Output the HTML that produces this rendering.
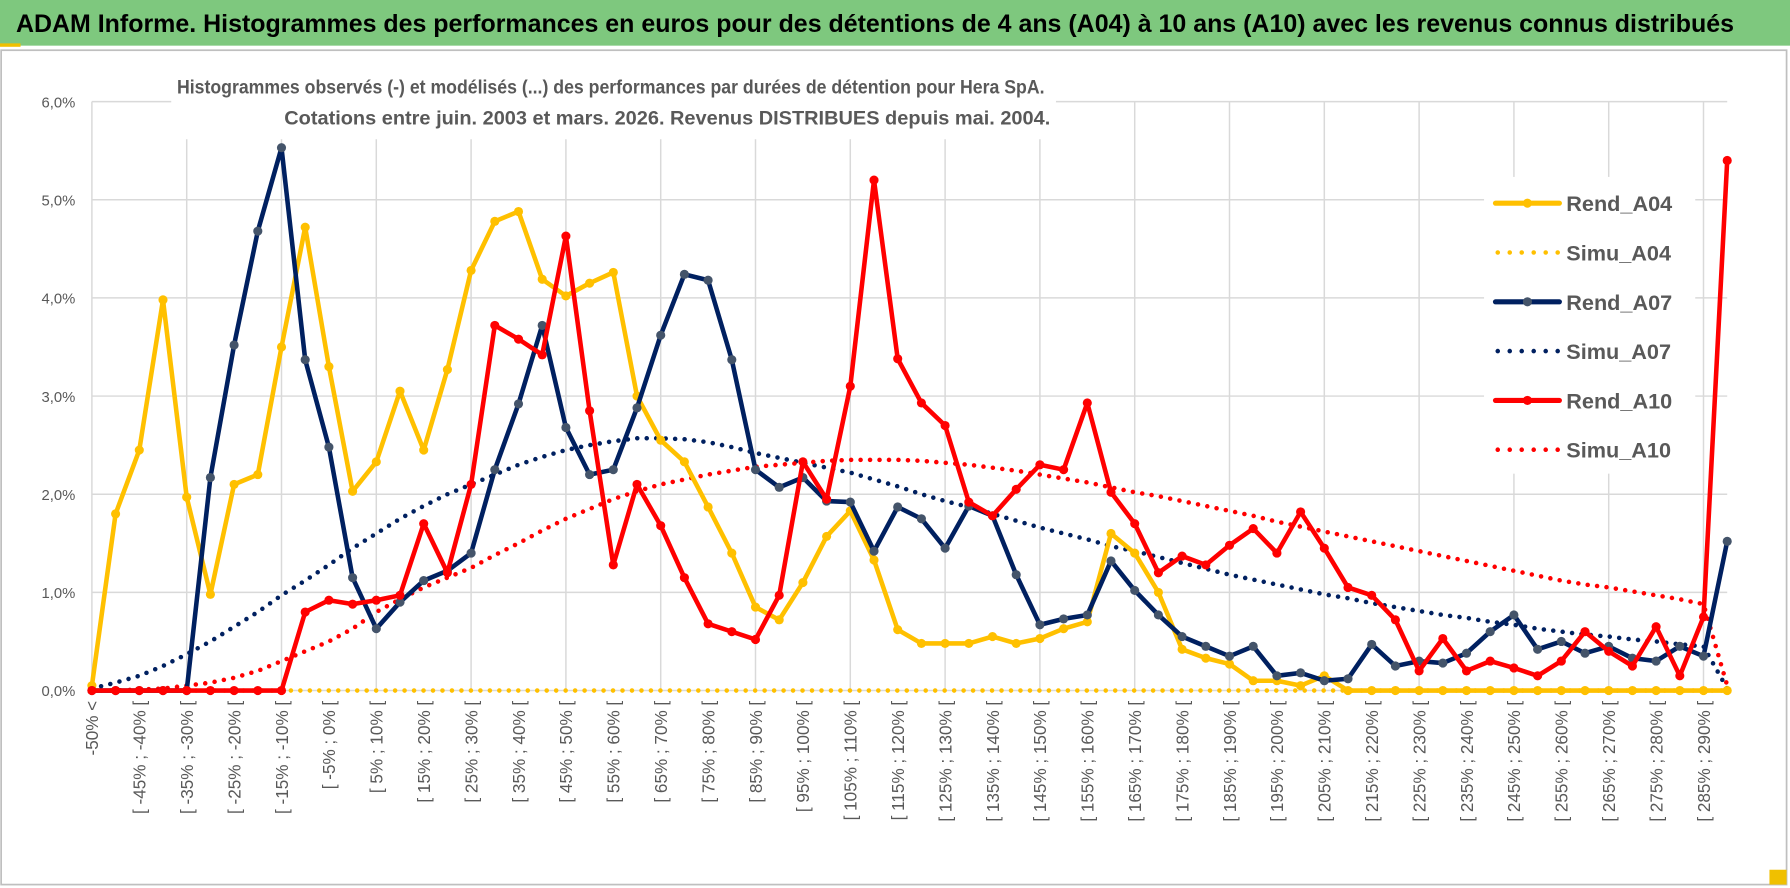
<!DOCTYPE html>
<html><head><meta charset="utf-8">
<style>
html,body{margin:0;padding:0;background:#fff;}
svg{display:block;}
text{font-family:"Liberation Sans Narrow","Liberation Sans",sans-serif;}
</style></head>
<body>
<svg id="chart" width="1790" height="888" viewBox="0 0 1568 778" preserveAspectRatio="none" xmlns="http://www.w3.org/2000/svg">
  <rect x="0" y="0" width="1568" height="778" fill="#fff"/>
  <rect x="0" y="0" width="1568" height="40" fill="#7ec87e"/>
  <rect x="0" y="38" width="18" height="3" fill="#f0c000"/>
  <text x="14" y="28" font-size="22" font-weight="bold" fill="#000" textLength="1505" lengthAdjust="spacingAndGlyphs">ADAM Informe. Histogrammes des performances en euros pour des détentions de 4 ans (A04) à 10 ans (A10) avec les revenus connus distribués</text>
  <rect x="1" y="44" width="1564" height="731" fill="#fff" stroke="#bfbfbf" stroke-width="1.5"/>
  <rect x="1550" y="762" width="15" height="13" fill="#f0c000"/>
  <g id="grid"></g>
  <rect x="150" y="58" width="775" height="64" fill="#fff"/>
  <text x="155" y="82" font-size="17" font-weight="bold" fill="#595959" textLength="760" lengthAdjust="spacingAndGlyphs">Histogrammes observés (-) et modélisés (...) des performances par durées de détention pour Hera SpA.</text>
  <text x="249" y="109" font-size="17" font-weight="bold" fill="#595959" textLength="671" lengthAdjust="spacingAndGlyphs">Cotations entre juin. 2003 et mars. 2026. Revenus DISTRIBUES depuis mai. 2004.</text>
  <g id="yaxis"></g>
  <g id="xaxis"></g>
  <g id="legendbg"></g>
  <g id="series"></g>
  <g id="legend"></g>
</svg>
<script>
const categories = ["-50% <"];
for (let k = 1; k < 70; k++) categories.push("[ " + (-50 + 5*(k-1)) + "% ; " + (-45 + 5*(k-1)) + "% [");
const yTicks = [0,1,2,3,4,5,6];
const yTickLabels = ["0,0%","1,0%","2,0%","3,0%","4,0%","5,0%","6,0%"];
const rendA04 = [0.05,1.8,2.45,3.98,1.97,0.98,2.1,2.2,3.5,4.72,3.3,2.03,2.33,3.05,2.45,3.27,4.28,4.78,4.88,4.19,4.02,4.15,4.26,3.0,2.55,2.33,1.87,1.4,0.85,0.72,1.1,1.57,1.83,1.33,0.62,0.48,0.48,0.48,0.55,0.48,0.53,0.63,0.7,1.6,1.4,1.0,0.42,0.33,0.27,0.1,0.1,0.05,0.15,0,0,0,0,0,0,0,0,0,0,0,0,0,0,0,0,0];
const simuA04 = [0,0,0,0,0,0,0,0,0,0,0,0,0,0,0,0,0,0,0,0,0,0,0,0,0,0,0,0,0,0,0,0,0,0,0,0,0,0,0,0,0,0,0,0,0,0,0,0,0,0,0,0,0,0,0,0,0,0,0,0,0,0,0,0,0,0,0,0,0,0];
const rendA07 = [0,0,0,0,0,2.17,3.52,4.68,5.53,3.37,2.48,1.15,0.63,0.9,1.12,1.22,1.4,2.25,2.92,3.72,2.68,2.2,2.25,2.88,3.62,4.24,4.18,3.37,2.25,2.07,2.17,1.93,1.92,1.42,1.87,1.75,1.45,1.88,1.78,1.18,0.67,0.73,0.77,1.32,1.02,0.77,0.55,0.45,0.35,0.45,0.15,0.18,0.1,0.12,0.47,0.25,0.3,0.28,0.38,0.6,0.77,0.42,0.5,0.38,0.45,0.33,0.3,0.45,0.35,1.52];
const simuA07 = [0.02,0.08,0.15,0.25,0.37,0.5,0.65,0.8,0.97,1.12,1.28,1.45,1.6,1.75,1.88,2.0,2.1,2.2,2.3,2.38,2.45,2.5,2.54,2.57,2.57,2.56,2.53,2.48,2.42,2.37,2.32,2.27,2.22,2.15,2.08,2.0,1.93,1.87,1.8,1.73,1.66,1.6,1.54,1.47,1.42,1.36,1.3,1.24,1.18,1.13,1.08,1.03,0.98,0.94,0.89,0.85,0.81,0.77,0.74,0.7,0.67,0.63,0.6,0.57,0.55,0.52,0.5,0.47,0.45,0.02];
const rendA10 = [0,0,0,0,0,0,0,0,0,0.8,0.92,0.88,0.92,0.97,1.7,1.2,2.1,3.72,3.58,3.42,4.63,2.85,1.28,2.1,1.68,1.15,0.68,0.6,0.52,0.97,2.33,1.95,3.1,5.2,3.38,2.93,2.7,1.92,1.78,2.05,2.3,2.25,2.93,2.02,1.7,1.2,1.37,1.28,1.48,1.65,1.4,1.82,1.45,1.05,0.97,0.72,0.2,0.53,0.2,0.3,0.23,0.15,0.3,0.6,0.4,0.25,0.65,0.15,0.75,5.4];
const simuA10 = [0,0,0.01,0.02,0.05,0.08,0.13,0.2,0.3,0.4,0.5,0.63,0.8,0.93,1.05,1.15,1.25,1.38,1.5,1.63,1.75,1.85,1.95,2.03,2.1,2.15,2.2,2.24,2.28,2.3,2.32,2.34,2.35,2.35,2.35,2.34,2.32,2.3,2.27,2.24,2.2,2.16,2.12,2.07,2.02,1.98,1.93,1.88,1.83,1.78,1.72,1.67,1.62,1.57,1.52,1.47,1.42,1.37,1.32,1.27,1.22,1.17,1.12,1.08,1.05,1.01,0.97,0.93,0.88,0.05];

const NS = "http://www.w3.org/2000/svg";
const X0 = 80.5, X1 = 1513, Y0 = 605, YTOP = 89;
function xPos(i){ return X0 + i*(X1-X0)/(categories.length-1); }
function yPos(v){ return Y0 - v*(Y0-YTOP)/6; }
function mk(tag, attrs, parent){ const e=document.createElementNS(NS,tag); for(const k in attrs) e.setAttribute(k,attrs[k]); parent.appendChild(e); return e; }

const grid = document.getElementById('grid');
yTicks.forEach(t=>{
  const l = mk('line',{x1:X0,x2:X1,y1:yPos(t),y2:yPos(t),stroke:'#d9d9d9','stroke-width':1.3},grid);
  
  
});
for(let i=4;i<categories.length;i+=4){
  const l = mk('line',{x1:xPos(i),x2:xPos(i),y1:YTOP,y2:Y0,stroke:'#d9d9d9','stroke-width':1.3},grid);
  
  
}
mk('line',{x1:X0,x2:X0,y1:YTOP,y2:Y0,stroke:'#d9d9d9','stroke-width':1.3},grid);

const yaxis = document.getElementById('yaxis');
yTicks.forEach((t,i)=>{
  const tx = mk('text',{x:66,y:yPos(t)+5,'text-anchor':'end','font-size':13,fill:'#595959'},yaxis);
  tx.textContent = yTickLabels[i];
  
  
});
const xaxis = document.getElementById('xaxis');
categories.forEach((c,i)=>{
  if(i%2) return;
  const x = xPos(i)+5.5, y=614;
  const tx = mk('text',{x:x,y:y,'text-anchor':'end','font-size':15,fill:'#595959',transform:`rotate(-90 ${x} ${y})`},xaxis);
  tx.textContent = c;
  
  
});

const legendbg = document.getElementById('legendbg');
mk('rect',{x:1300,y:155,width:185,height:260,fill:'#fff'},legendbg);

const series = document.getElementById('series');
function drawDotted(vals,color,name){
  const p = mk('polyline',{points:vals.map((v,i)=>xPos(i)+','+yPos(v)).join(' '),fill:'none',stroke:color,'stroke-width':4,'stroke-linecap':'round','stroke-dasharray':'0 8.3'},series);
  
  
}
function drawLine(vals,color,mcolor,name){
  const g = mk('g',{},series);
  
  
  mk('polyline',{points:vals.map((v,i)=>xPos(i)+','+yPos(v)).join(' '),fill:'none',stroke:color,'stroke-width':4,'stroke-linejoin':'round'},g);
  vals.forEach((v,i)=>{
    const c = mk('circle',{cx:xPos(i),cy:yPos(v),r:4,fill:mcolor},g);
    
    
  });
}
drawDotted(simuA04,'#ffc000','simu-a04-line');
drawDotted(simuA07,'#002060','simu-a07-line');
drawDotted(simuA10,'#ff0000','simu-a10-line');
drawLine(rendA04,'#ffc000','#ffc000','rend-a04-line');
drawLine(rendA07,'#002060','#44546a','rend-a07-line');
drawLine(rendA10,'#ff0000','#ff0000','rend-a10-line');

const legend = document.getElementById('legend');
const legendItems = [["Rend_A04","#ffc000","#ffc000",false],["Simu_A04","#ffc000",null,true],["Rend_A07","#002060","#44546a",false],["Simu_A07","#002060",null,true],["Rend_A10","#ff0000","#ff0000",false],["Simu_A10","#ff0000",null,true]];
legendItems.forEach((it,i)=>{
  const y = 178 + i*43.2;
  const g = mk('g',{},legend);
  
  
  if(it[3]){
    mk('line',{x1:1312,x2:1366,y1:y,y2:y,stroke:it[1],'stroke-width':4,'stroke-linecap':'round','stroke-dasharray':'0 10.5'},g);
  } else {
    mk('line',{x1:1310,x2:1366,y1:y,y2:y,stroke:it[1],'stroke-width':4.5,'stroke-linecap':'round'},g);
    mk('circle',{cx:1338,cy:y,r:4,fill:it[2]},g);
  }
  const t = mk('text',{x:1372,y:y+7,'font-size':19,'font-weight':'bold',fill:'#595959'},g);
  t.textContent = it[0];
});
</script>
</body></html>
